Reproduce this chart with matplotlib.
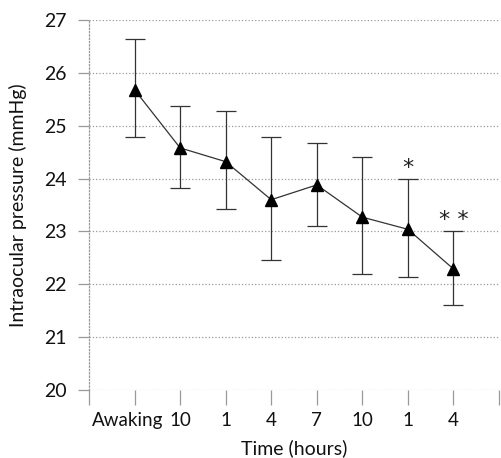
import numpy as np
import matplotlib.pyplot as plt
import matplotlib.transforms as mtransforms

plt.rcParams['font.family'] = ['Lato', 'DejaVu Sans']

# Data
labels = ['Awaking', '10', '1', '4', '7', '10', '1', '4']
iop_mean = [25.68, 24.58, 24.32, 23.60, 23.88, 23.27, 23.04, 22.29]
err_upper = [26.65, 25.37, 25.28, 24.78, 24.67, 24.40, 24.00, 23.00]
err_lower = [24.78, 23.82, 23.42, 22.46, 23.10, 22.19, 22.14, 21.60]
stars = ['', '', '', '', '', '', '*', '* *']

x = np.arange(1, len(labels) + 1)
mean = np.array(iop_mean)
yerr = [mean - np.array(err_lower), np.array(err_upper) - mean]

fig = plt.figure(figsize=(5.01, 4.58), dpi=100)
ax = fig.add_axes([89/501, 1 - 390/458, 410/501, 370/458])

ax.errorbar(x, mean, yerr=yerr, fmt='none', ecolor='#333333',
            elinewidth=0.9, capsize=7, capthick=0.9, zorder=3)
ax.plot(x, mean, color='#333333', lw=0.9, marker='^', ms=9,
        markerfacecolor='black', markeredgecolor='black', zorder=4)

for xi, up, s in zip(x, err_upper, stars):
    if s:
        ax.text(xi, up + 0.02, s, ha='center', va='bottom', fontsize=16,
                family='DejaVu Sans', color='#222222')

ax.set_xlim(0, 9)
ax.set_ylim(20, 27)
ax.set_yticks(range(20, 28))
ax.set_xticks(range(0, 10))
ax.set_xticklabels([''] + labels + [''])

ax.yaxis.grid(True, color='#999999', linestyle=':', linewidth=0.9)
for side in ['top', 'right', 'bottom']:
    ax.spines[side].set_visible(False)
ax.spines['left'].set_color('#999999')
ax.spines['left'].set_linestyle(':')
ax.spines['left'].set_linewidth(0.9)

ax.tick_params(axis='y', length=8, width=0.9, color='#999999',
               labelsize=14, pad=8, labelcolor='#111111')
ax.tick_params(axis='x', length=11, width=0.9, color='#999999',
               labelsize=13.5, pad=5, labelcolor='#111111')
for t in ax.xaxis.get_major_ticks() + ax.yaxis.get_major_ticks():
    t.tick1line.set_linestyle(':')

# nudge "Awaking" left so it clears the "10" label
awk = ax.get_xticklabels()[1]
awk.set_transform(awk.get_transform() +
                  mtransforms.ScaledTranslation(-7/100, 0, fig.dpi_scale_trans))

ax.set_xlabel('Time (hours)', fontsize=14, color='#111111', labelpad=7)
ax.set_ylabel('Intraocular pressure (mmHg)', fontsize=14, color='#111111',
              labelpad=12)

fig.savefig('out.png', dpi=100)
